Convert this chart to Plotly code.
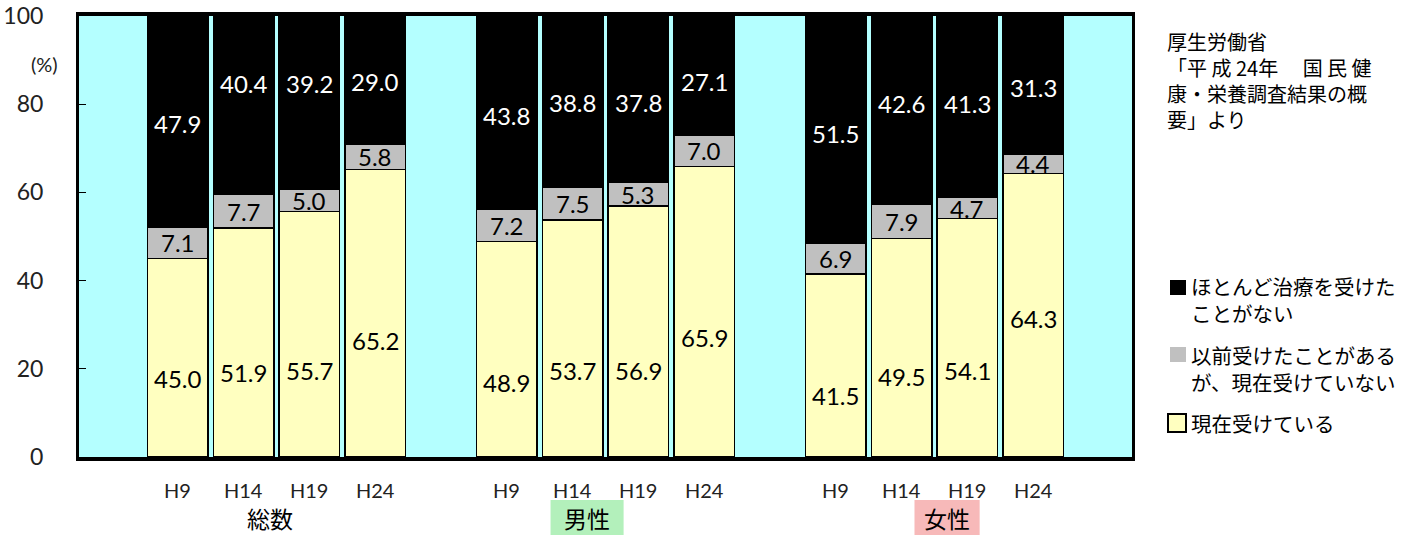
import plotly.graph_objects as go

# Survey data (%), order: 総数 H9..H24, 男性 H9..H24, 女性 H9..H24
groups = ["総数", "男性", "女性"]
years = ["H9", "H14", "H19", "H24"]
current = [45.0, 51.9, 55.7, 65.2, 48.9, 53.7, 56.9, 65.9, 41.5, 49.5, 54.1, 64.3]
past = [7.1, 7.7, 5.0, 5.8, 7.2, 7.5, 5.3, 7.0, 6.9, 7.9, 4.7, 4.4]
never = [47.9, 40.4, 39.2, 29.0, 43.8, 38.8, 37.8, 27.1, 51.5, 42.6, 41.3, 31.3]
y_ticks = [0, 20, 40, 60, 80, 100]

# Label placement (axis units) for the value texts in the black and yellow segments
never_label_y = [75.7, 84.6, 84.6, 85.1, 77.5, 80.3, 80.3, 85.1, 73.4, 80.1, 80.1, 83.7]
current_label_y = [17.8, 19.2, 19.6, 26.4, 16.9, 19.6, 19.6, 27.1, 14.0, 18.3, 19.6, 31.4]
# group caption x (axis units), caption background colour and its half width (axis units)
group_label_x = [2.40, 7.22, 12.69]
group_bg = [None, "#b3f0bb", "#f7b9b9"]
group_bg_half = [0, 0.555, 0.495]

CYAN = "#b4ffff"
YELLOW = "#ffffc0"
GREY = "#c0c0c0"
NUM_FONT = "Lato, 'Noto Sans CJK JP', sans-serif"
JP_FONT = "'Noto Sans CJK JP', sans-serif"

W, H = 1417, 535
ML, MR, MT, MB = 79, 285, 16, 78
PW, PH = W - ML - MR, H - MT - MB


def px(x):
    """figure pixel x -> plot-area paper coordinate"""
    return (x - ML) / PW


def py(y):
    """figure pixel y (from top) -> plot-area paper coordinate"""
    return (H - MB - y) / PH


# one empty slot before each group and after the last one
xpos = [1 + 5 * g + i for g in range(len(groups)) for i in range(len(years))]
bar_w = 0.92

fig = go.Figure()
fig.add_bar(x=xpos, y=current, width=bar_w, marker=dict(color=YELLOW, line=dict(color="black", width=1.5)),
            name="現在受けている", hoverinfo="y")
fig.add_bar(x=xpos, y=past, width=bar_w, marker=dict(color=GREY, line=dict(color="black", width=1.5)),
            name="以前受けたことがあるが、現在受けていない", hoverinfo="y")
fig.add_bar(x=xpos, y=never, width=bar_w, marker=dict(color="black", line=dict(color="black", width=1.5)),
            name="ほとんど治療を受けたことがない", hoverinfo="y")

ann = []
for k, x in enumerate(xpos):
    ann.append(dict(x=x, y=current_label_y[k], text=f"{current[k]:.1f}", showarrow=False,
                    font=dict(family=NUM_FONT, size=24, color="black")))
    ann.append(dict(x=x, y=current[k] + past[k] / 2, text=f"{past[k]:.1f}", showarrow=False,
                    font=dict(family=NUM_FONT, size=24, color="black")))
    ann.append(dict(x=x, y=never_label_y[k], text=f"{never[k]:.1f}", showarrow=False,
                    font=dict(family=NUM_FONT, size=24, color="white")))

# year labels under each bar
for k, x in enumerate(xpos):
    ann.append(dict(x=x, xref="x", y=py(490), yref="paper", yanchor="middle",
                    text=years[k % len(years)], showarrow=False,
                    font=dict(family=NUM_FONT, size=20, color="#222")))

shapes = []
# group captions, with a coloured band behind the 男性 / 女性 captions
for g, name in enumerate(groups):
    if group_bg[g]:
        shapes.append(dict(type="rect", xref="x", yref="paper",
                           x0=group_label_x[g] - group_bg_half[g], x1=group_label_x[g] + group_bg_half[g],
                           y0=py(535), y1=py(500), fillcolor=group_bg[g], line=dict(width=0),
                           layer="below"))
    ann.append(dict(x=group_label_x[g], xref="x", y=py(518), yref="paper", yanchor="middle",
                    text=name, showarrow=False, font=dict(family=JP_FONT, size=23, color="black")))

# "(%)" unit under the 100 tick
ann.append(dict(x=px(44), xref="paper", xanchor="center", y=py(50), yref="paper", text="(%)",
                showarrow=False, font=dict(family=NUM_FONT, size=20, color="#222")))

# source note
src_text = "厚生労働省<br>「平 成 24年　 国 民 健<br>康・栄養調査結果の概<br>要」より"
ann.append(dict(x=px(1165), xref="paper", y=py(80), yref="paper", xanchor="left", align="left",
                yanchor="middle", text=src_text, showarrow=False,
                font=dict(family=JP_FONT, size=20, color="black")))

# legend text
leg_items = [("ほとんど治療を受けた<br>ことがない", 299.5),
             ("以前受けたことがある<br>が、現在受けていない", 368.5),
             ("現在受けている", 423)]
for t, yy in leg_items:
    ann.append(dict(x=px(1189), xref="paper", y=py(yy), yref="paper", xanchor="left", align="left",
                    yanchor="middle", text=t, showarrow=False,
                    font=dict(family=JP_FONT, size=20.5, color="black")))

shapes += [
    dict(type="rect", xref="paper", yref="paper", x0=px(1170), x1=px(1186),
         y0=py(295), y1=py(280), fillcolor="black", line=dict(width=0)),
    dict(type="rect", xref="paper", yref="paper", x0=px(1170), x1=px(1186),
         y0=py(362), y1=py(347), fillcolor=GREY, line=dict(width=0)),
    dict(type="rect", xref="paper", yref="paper", x0=px(1168), x1=px(1186),
         y0=py(432), y1=py(414), fillcolor=YELLOW, line=dict(color="black", width=2)),
]

fig.update_layout(
    width=W, height=H,
    margin=dict(l=ML, r=MR, t=MT, b=MB, autoexpand=False),
    paper_bgcolor="white", plot_bgcolor=CYAN,
    barmode="stack", showlegend=False,
    annotations=ann, shapes=shapes,
    xaxis=dict(range=[-0.5, 15.5], showticklabels=False, ticks="", showgrid=False, zeroline=False,
               showline=True, linecolor="black", linewidth=4, mirror=True, fixedrange=True,
               automargin=False),
    yaxis=dict(range=[0, 100], tickvals=y_ticks, ticks="inside", ticklen=7, tickcolor="black",
               tickwidth=1, showgrid=False, zeroline=False, showline=True, linecolor="black",
               linewidth=3, mirror=True, ticklabelstandoff=28, automargin=False,
               tickfont=dict(family=NUM_FONT, size=23, color="#222"), fixedrange=True),
)

fig.write_html("out.html")
